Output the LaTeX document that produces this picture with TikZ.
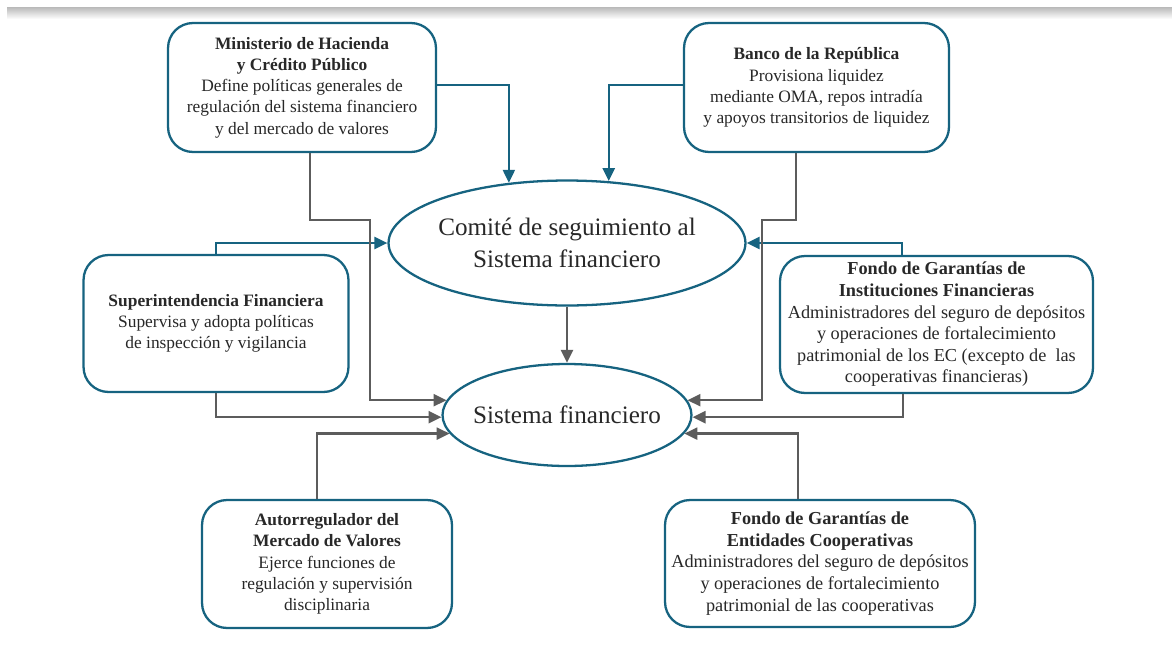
\documentclass[tikz,border=0pt]{standalone}
\usepackage{fontspec}
\setmainfont{Liberation Serif}
\usetikzlibrary{positioning,arrows.meta,shapes.geometric}
\definecolor{azul}{RGB}{22,99,128}
\definecolor{gris}{RGB}{92,92,92}
\definecolor{texto}{RGB}{40,40,40}

\begin{document}
\begin{tikzpicture}[x=0.02cm, y=-0.02cm,
        entidad/.style={draw=azul, line width=1.3pt, rounded corners=0.5cm, fill=white, align=center, text=texto, font=\fontsize{9.9}{12.1}\selectfont, minimum width=5.3cm, minimum height=2.6cm, inner sep=2pt},
        fondo/.style={entidad, font=\fontsize{10.4}{12.3}\selectfont},
        comite/.style={ellipse, draw=azul, line width=1.3pt, fill=white, align=center, text=texto, font=\fontsize{14.3}{18.5}\selectfont, inner sep=-4pt},
        flechaazul/.style={draw=azul, line width=1.3pt, -{Triangle[length=0.26cm, width=0.24cm]}},
        flechagris/.style={draw=gris, line width=1.3pt, -{Triangle[length=0.26cm, width=0.24cm]}}
      ]
      \useasboundingbox (0,0) rectangle (1172,656);
      \shade[top color=gray!55, bottom color=white] (7,7) rectangle (1172,19);

      \node[comite, minimum width=7.14cm, minimum height=2.5cm] (com) at (567,243) {Comité de seguimiento al\\Sistema financiero};
      \node[comite, minimum width=4.98cm, minimum height=2.04cm] (sis) at (567,415) {Sistema financiero};

      \node[entidad, minimum width=5.36cm, minimum height=2.58cm] (min) at (302,87.5) {\textbf{Ministerio de Hacienda}\\\textbf{y Crédito Público}\\Define políticas generales de\\regulación del sistema financiero\\y del mercado de valores};
      \node[entidad, minimum width=5.3cm, minimum height=2.58cm] (ban) at (816.5,87.5) {\textbf{Banco de la República}\\Provisiona liquidez\\mediante OMA, repos intradía\\y apoyos transitorios de liquidez};
      \node[entidad, minimum height=2.74cm] (sup) at (216,323.5) {\textbf{Superintendencia Financiera}\\Supervisa y adopta políticas\\de inspección y vigilancia};
      \node[fondo, minimum width=6.26cm, minimum height=2.74cm] (fgi) at (936.5,324.5) {\textbf{Fondo de Garantías de}\\\textbf{Instituciones Financieras}\\Administradores del seguro de depósitos\\y operaciones de fortalecimiento\\patrimonial de los EC (excepto de\ \ las\\cooperativas financieras)};
      \node[entidad, minimum width=5.0cm, minimum height=2.56cm] (aut) at (327,564) {\textbf{Autorregulador del}\\\textbf{Mercado de Valores}\\Ejerce funciones de\\regulación y supervisión\\disciplinaria};
      \node[fondo, minimum width=6.2cm, minimum height=2.54cm] (fgc) at (820,563.5) {\textbf{Fondo de Garantías de}\\\textbf{Entidades Cooperativas}\\Administradores del seguro de depósitos\\y operaciones de fortalecimiento\\patrimonial de las cooperativas};

      % hacia el comite
      \draw[flechaazul] ([yshift=0.05cm]min.east) -| (com.134);
      \draw[flechaazul] ([yshift=0.05cm]ban.west) -| (com.56);
      \draw[flechaazul] (sup.north) |- (com.west);
      \draw[flechaazul] ([xshift=-0.69cm]fgi.north) |- (com.east);

      % hacia el sistema financiero
      \draw[flechagris] (com.south) -- (sis.north);
      \draw[flechagris] ([xshift=0.16cm]min.south) |- (370,220) |- (sis.173);
      \draw[flechagris] ([xshift=-0.41cm]ban.south) |- (762,220) |- (sis.7);
      \draw[flechagris] (sup.south) |- (sis.181);
      \draw[flechagris] ([xshift=-0.67cm]fgi.south) |- (sis.359);
      \draw[flechagris] ([xshift=-0.2cm]aut.north) |- (sis.189);
      \draw[flechagris] ([xshift=-0.44cm]fgc.north) |- (sis.351);
    \end{tikzpicture}
\end{document}
